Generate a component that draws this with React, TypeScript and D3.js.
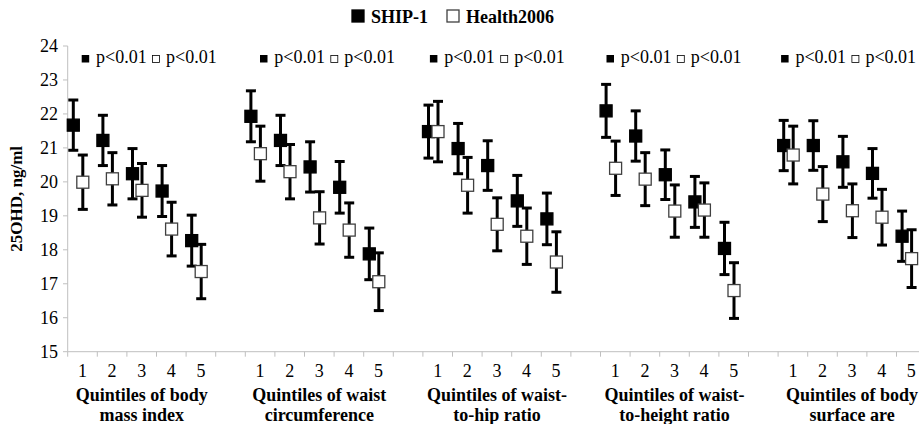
import React, { useEffect, useRef } from "react";
import * as d3 from "d3";

// x categories
const quintiles = ["1", "2", "3", "4", "5"];
const groupTitles = [
  ["Quintiles of body", "mass index"],
  ["Quintiles of waist", "circumference"],
  ["Quintiles of waist-", "to-hip ratio"],
  ["Quintiles of waist-", "to-height ratio"],
  ["Quintiles of body", "surface are"],
];
const seriesNames = ["SHIP-1", "Health2006"];
const pValues = ["p<0.01", "p<0.01"];
const yTicks = [15, 16, 17, 18, 19, 20, 21, 22, 23, 24];

// SHIP-1 means and half-widths of the error bars
const shipMean = [
  [21.67, 21.22, 20.24, 19.73, 18.27],
  [21.93, 21.22, 20.44, 19.84, 17.88],
  [21.48, 20.98, 20.48, 19.44, 18.91],
  [22.09, 21.35, 20.21, 19.41, 18.04],
  [21.07, 21.07, 20.59, 20.25, 18.4],
];
const shipErr = [
  [0.74, 0.74, 0.74, 0.75, 0.75],
  [0.75, 0.74, 0.74, 0.76, 0.76],
  [0.78, 0.74, 0.73, 0.75, 0.76],
  [0.78, 0.74, 0.73, 0.75, 0.77],
  [0.74, 0.73, 0.75, 0.73, 0.74],
];

// Health2006 means and half-widths
const healthMean = [
  [19.99, 20.09, 19.75, 18.61, 17.36],
  [20.83, 20.3, 18.94, 18.58, 17.06],
  [21.48, 19.9, 18.75, 18.4, 17.64],
  [20.4, 20.08, 19.14, 19.17, 16.8],
  [20.79, 19.64, 19.15, 18.96, 17.74],
];
const healthErr = [
  [0.8, 0.77, 0.79, 0.79, 0.8],
  [0.81, 0.8, 0.77, 0.8, 0.85],
  [0.89, 0.82, 0.78, 0.83, 0.89],
  [0.8, 0.78, 0.77, 0.8, 0.82],
  [0.85, 0.81, 0.79, 0.82, 0.85],
];

// where each group's p-value note starts, relative to the group's first band
const noteShift = [14, 14.7, 7, 6, 3];

export default function App() {
  const svgRef = useRef<SVGSVGElement>(null);

  useEffect(() => {
    const width = 919;
    const height = 424;
    const svg = d3.select(svgRef.current);
    svg.selectAll("*").remove();

    const serif = "Liberation Serif, Times New Roman, serif";
    const axisColor = "#bfbfbf";

    const nCats = groupTitles.length * 6 - 1;
    const x = d3
      .scaleBand<number>()
      .domain(d3.range(nCats))
      .range([67.7, 67.7 + nCats * 29.6])
      .padding(0);
    const y = d3.scaleLinear().domain([15, 24]).range([351.7, 46]);
    const bw = x.bandwidth();
    const catX = (g: number, q: number) => (x(g * 6 + q) as number) + bw / 2;

    // axes
    svg.append("line")
      .attr("x1", 67.7).attr("x2", 67.7)
      .attr("y1", y(15)).attr("y2", y(24))
      .attr("stroke", axisColor).attr("stroke-width", 1);
    svg.append("line")
      .attr("x1", 67.7).attr("x2", 67.7 + nCats * 29.6)
      .attr("y1", y(15)).attr("y2", y(15))
      .attr("stroke", axisColor).attr("stroke-width", 1);

    svg.selectAll(".ytick")
      .data(yTicks)
      .join("line")
      .attr("x1", 63).attr("x2", 67.7)
      .attr("y1", d => y(d)).attr("y2", d => y(d))
      .attr("stroke", axisColor);

    svg.selectAll(".ylab")
      .data(yTicks)
      .join("text")
      .attr("x", 58)
      .attr("y", d => y(d) + 6)
      .attr("text-anchor", "end")
      .attr("font-family", serif)
      .attr("font-size", 18)
      .text(d => d);

    svg.selectAll(".xtick")
      .data(d3.range(nCats + 1))
      .join("line")
      .attr("x1", d => 67.7 + d * bw).attr("x2", d => 67.7 + d * bw)
      .attr("y1", y(15)).attr("y2", y(15) + 5)
      .attr("stroke", axisColor);

    svg.append("text")
      .attr("transform", `translate(22, ${(y(15) + y(24)) / 2}) rotate(-90)`)
      .attr("text-anchor", "middle")
      .attr("font-family", serif)
      .attr("font-size", 17)
      .attr("font-weight", "bold")
      .text("25OHD, ng/ml");

    groupTitles.forEach((lines, g) => {
      quintiles.forEach((q, i) => {
        svg.append("text")
          .attr("x", catX(g, i))
          .attr("y", 377)
          .attr("text-anchor", "middle")
          .attr("font-family", serif)
          .attr("font-size", 18)
          .text(q);
      });
      lines.forEach((ln, li) => {
        svg.append("text")
          .attr("x", catX(g, 2))
          .attr("y", 401 + li * 20)
          .attr("text-anchor", "middle")
          .attr("font-family", serif)
          .attr("font-size", 18)
          .attr("font-weight", "bold")
          .text(ln);
      });

      // p-value notes
      const x0 = (x(g * 6) as number) + noteShift[g];
      const note = svg.append("g");
      note.append("rect")
        .attr("x", x0).attr("y", 55).attr("width", 7.5).attr("height", 7.5)
        .attr("fill", "#000");
      note.append("text")
        .attr("x", x0 + 14.3).attr("y", 62.5)
        .attr("font-family", serif).attr("font-size", 18)
        .text(pValues[0]);
      note.append("rect")
        .attr("x", x0 + 70.8).attr("y", 55.5).attr("width", 7).attr("height", 7)
        .attr("fill", "#fff").attr("stroke", "#000").attr("stroke-width", 0.8);
      note.append("text")
        .attr("x", x0 + 84.3).attr("y", 62.5)
        .attr("font-family", serif).attr("font-size", 18)
        .text(pValues[1]);
    });

    // series
    const series = [
      { mean: shipMean, err: shipErr, dx: -9.2, fill: "#000", stroke: "#000" },
      { mean: healthMean, err: healthErr, dx: 0.3, fill: "#fff", stroke: "#404040" },
    ];
    const size = 12;
    series.forEach(s => {
      const pts = s.mean.flatMap((arr, g) =>
        arr.map((v, q) => ({ cx: catX(g, q) + s.dx, v, e: s.err[g][q] }))
      );
      const bars = svg.append("g");
      bars.selectAll("line.stem")
        .data(pts)
        .join("line")
        .attr("x1", d => d.cx).attr("x2", d => d.cx)
        .attr("y1", d => y(d.v + d.e)).attr("y2", d => y(d.v - d.e))
        .attr("stroke", "#000").attr("stroke-width", 3);
      [1, -1].forEach(sign => {
        bars.selectAll(null)
          .data(pts)
          .join("line")
          .attr("x1", d => d.cx - 5).attr("x2", d => d.cx + 5)
          .attr("y1", d => y(d.v + sign * d.e)).attr("y2", d => y(d.v + sign * d.e))
          .attr("stroke", "#000").attr("stroke-width", 3);
      });
      svg.append("g")
        .selectAll("rect")
        .data(pts)
        .join("rect")
        .attr("x", d => d.cx - size / 2)
        .attr("y", d => y(d.v) - size / 2)
        .attr("width", size).attr("height", size)
        .attr("fill", s.fill)
        .attr("stroke", s.stroke)
        .attr("stroke-width", 1.3);
    });

    // legend
    const legend = svg.append("g");
    const lx = [352, 447];
    seriesNames.forEach((name, i) => {
      legend.append("rect")
        .attr("x", lx[i]).attr("y", 10).attr("width", 12).attr("height", 12)
        .attr("fill", i === 0 ? "#000" : "#fff")
        .attr("stroke", i === 0 ? "#000" : "#404040")
        .attr("stroke-width", 1.3);
      legend.append("text")
        .attr("x", lx[i] + 19).attr("y", 22.5)
        .attr("font-family", serif)
        .attr("font-size", 18)
        .attr("font-weight", "bold")
        .text(name);
    });

    svg.attr("width", width).attr("height", height);
  }, []);

  return (
    <div>
      <svg
        ref={svgRef}
        width={919}
        height={424}
        style={{ position: "absolute", left: 0, top: 0, background: "#fff" }}
      />
    </div>
  );
}
